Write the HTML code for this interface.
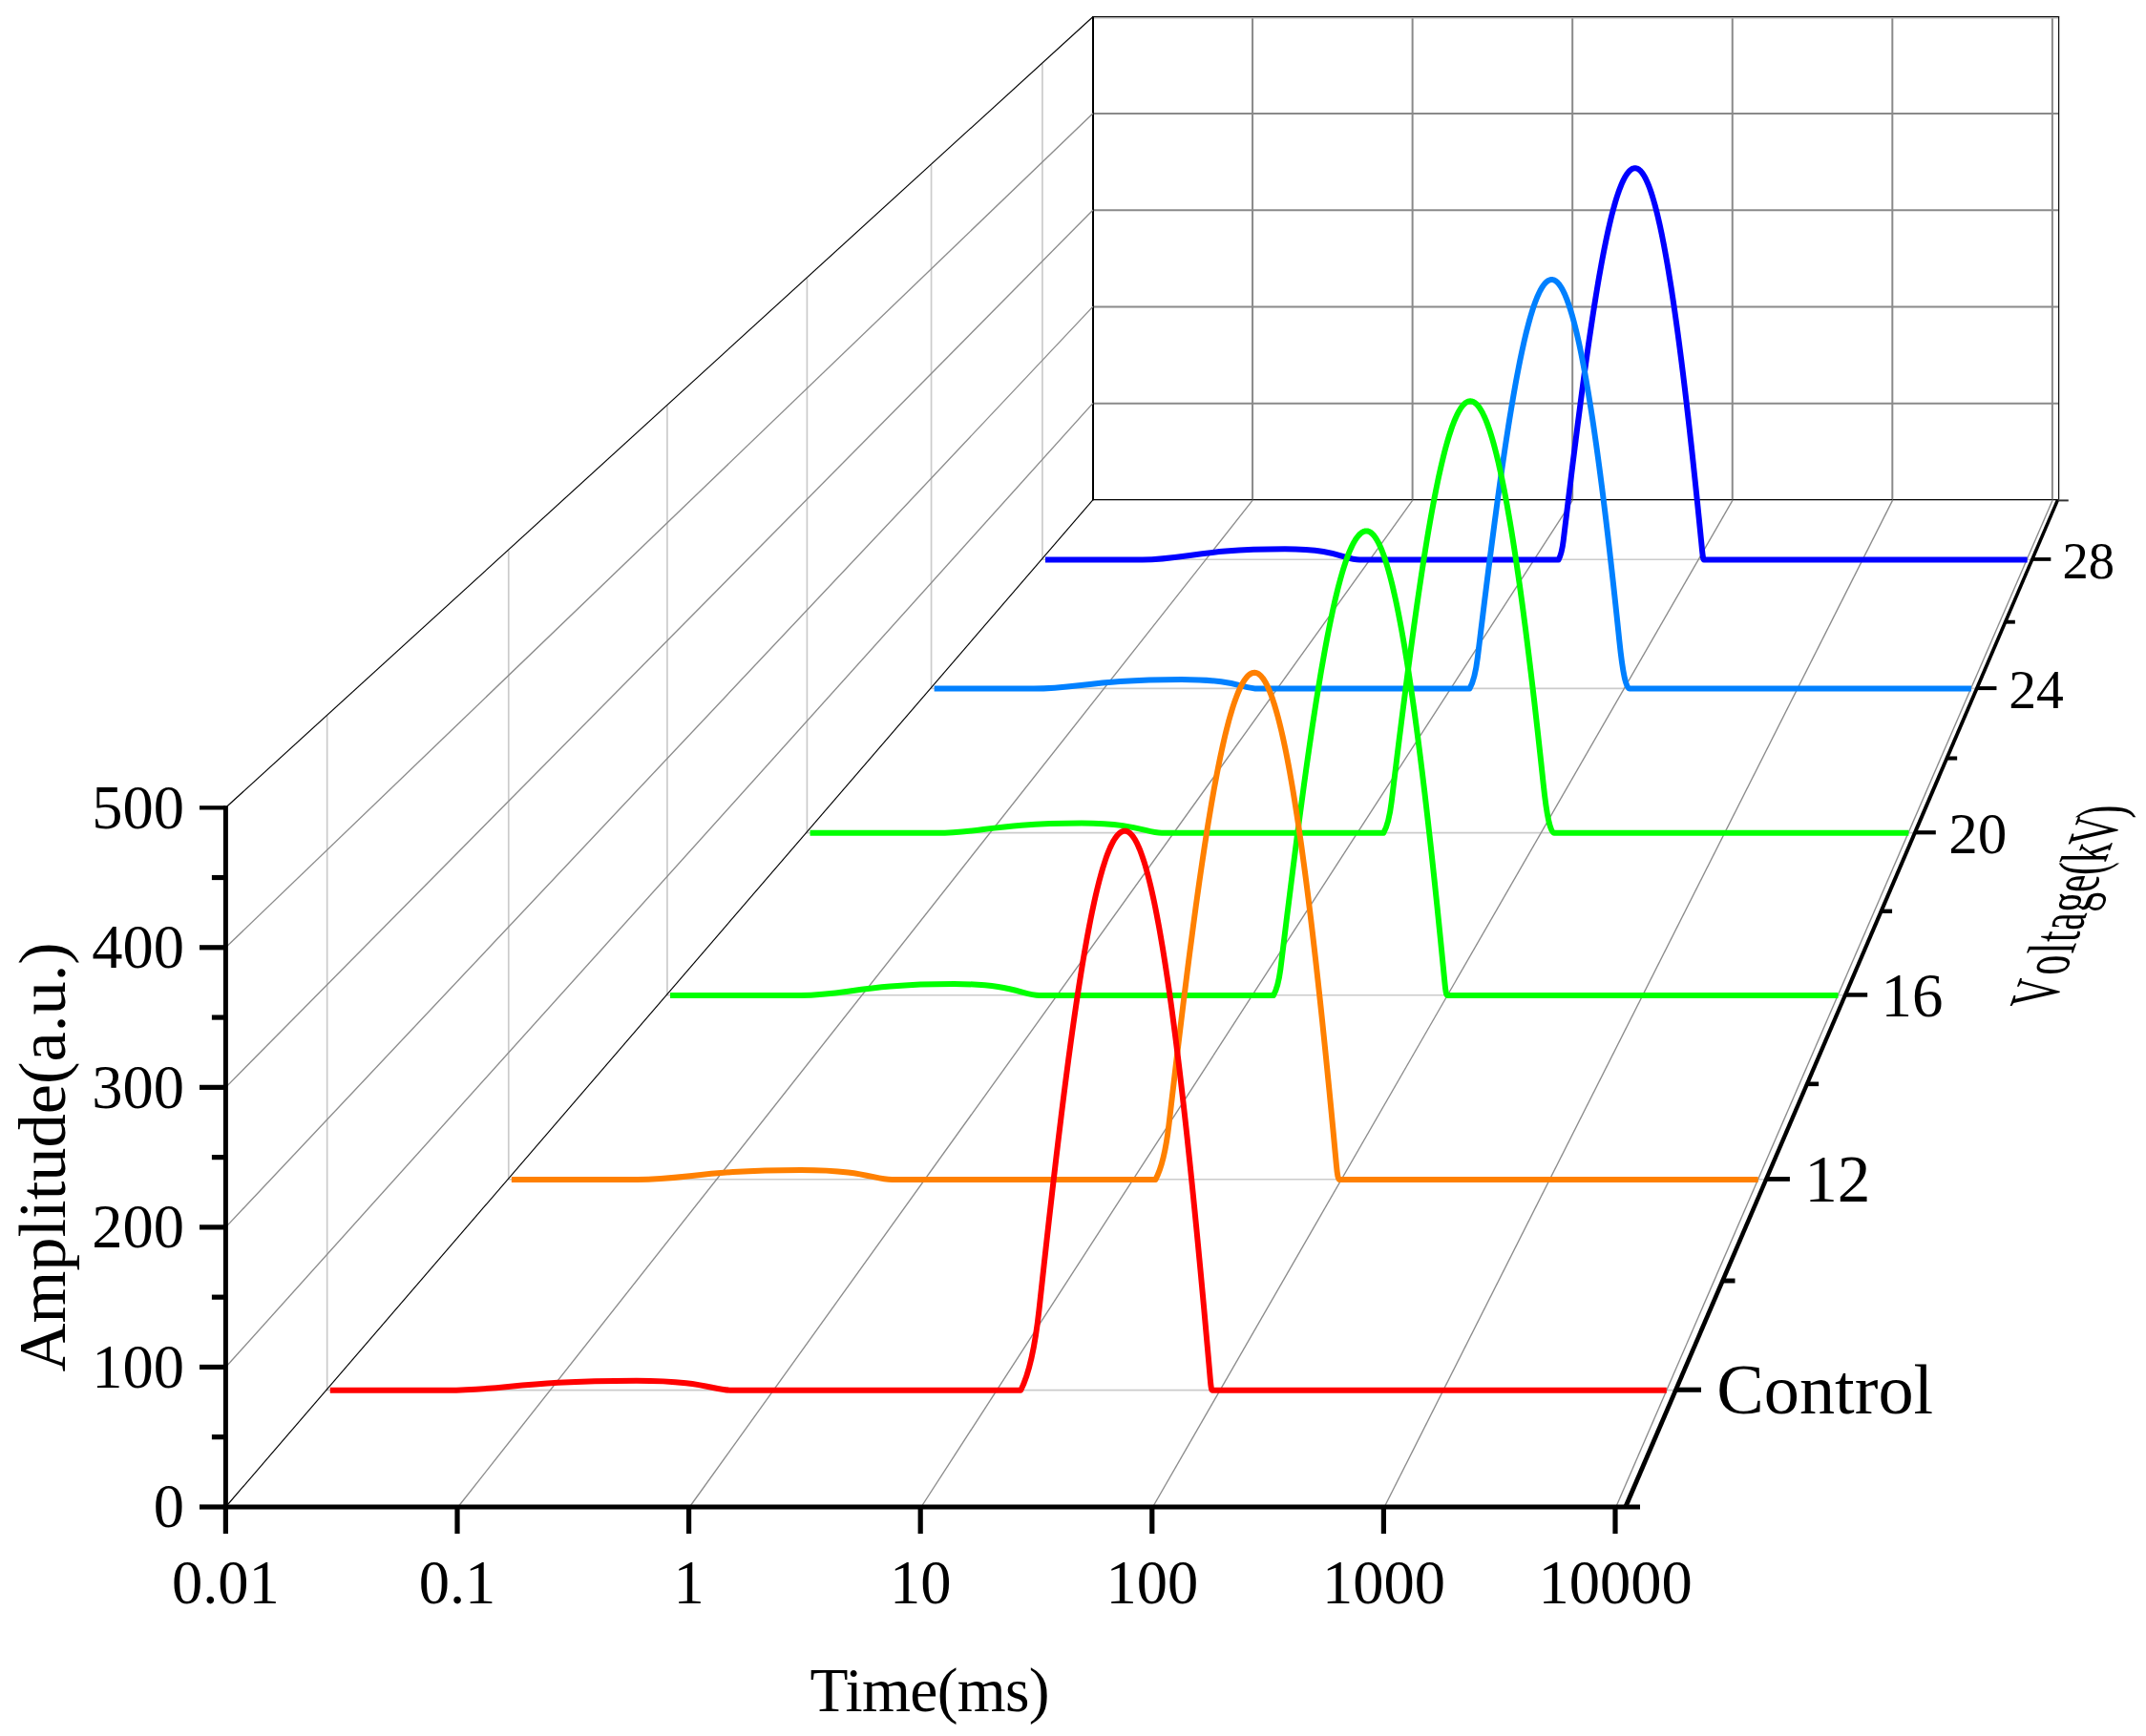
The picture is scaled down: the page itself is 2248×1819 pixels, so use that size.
<!DOCTYPE html>
<html lang="en"><head><meta charset="utf-8"><title>Waterfall: Amplitude vs Time at different voltages</title>
<style>html,body{margin:0;padding:0;background:#fff}svg{display:block}</style></head>
<body>
<svg width="2248" height="1819" viewBox="0 0 2248 1819">
<rect width="2248" height="1819" fill="#fff"/>
<g id="backwall" fill="none">
<line x1="1145" y1="422.78" x2="2156.6" y2="422.78" stroke="#8a8a8a" stroke-width="2"/>
<line x1="1145" y1="321.56" x2="2156.6" y2="321.56" stroke="#8a8a8a" stroke-width="2"/>
<line x1="1145" y1="220.33" x2="2156.6" y2="220.33" stroke="#8a8a8a" stroke-width="2"/>
<line x1="1145" y1="119.11" x2="2156.6" y2="119.11" stroke="#8a8a8a" stroke-width="2"/>
<line x1="1145" y1="17.89" x2="2156.6" y2="17.89" stroke="#8a8a8a" stroke-width="2"/>
<line x1="1312.06" y1="17.49" x2="1312.06" y2="523.6" stroke="#8a8a8a" stroke-width="2"/>
<line x1="1479.63" y1="17.49" x2="1479.63" y2="523.6" stroke="#8a8a8a" stroke-width="2"/>
<line x1="1647.19" y1="17.49" x2="1647.19" y2="523.6" stroke="#8a8a8a" stroke-width="2"/>
<line x1="1814.76" y1="17.49" x2="1814.76" y2="523.6" stroke="#8a8a8a" stroke-width="2"/>
<line x1="1982.32" y1="17.49" x2="1982.32" y2="523.6" stroke="#8a8a8a" stroke-width="2"/>
<line x1="2149.88" y1="17.49" x2="2149.88" y2="523.6" stroke="#8a8a8a" stroke-width="2"/>
<line x1="1145" y1="18.79" x2="2156.6" y2="18.79" stroke="#b4b4b4" stroke-width="1.6"/>
<line x1="1145" y1="17.49" x2="2157.1" y2="17.49" stroke="#000" stroke-width="1.15"/>
<line x1="1145" y1="523.6" x2="2156.6" y2="523.6" stroke="#000" stroke-width="1.3"/>
<line x1="2156.6" y1="16.99" x2="2156.6" y2="523.6" stroke="#111" stroke-width="1.25"/>
<line x1="1145" y1="16.89" x2="1145" y2="524.2" stroke="#000" stroke-width="2"/>
</g>
<g id="leftwall" fill="none">
<line x1="342.68" y1="1456.25" x2="342.68" y2="749.86" stroke="#cbcbcb" stroke-width="1.7"/>
<line x1="532.76" y1="1235.46" x2="532.76" y2="576.48" stroke="#cbcbcb" stroke-width="1.7"/>
<line x1="698.93" y1="1042.44" x2="698.93" y2="424.91" stroke="#cbcbcb" stroke-width="1.7"/>
<line x1="845.43" y1="872.27" x2="845.43" y2="291.29" stroke="#cbcbcb" stroke-width="1.7"/>
<line x1="975.56" y1="721.11" x2="975.56" y2="172.59" stroke="#cbcbcb" stroke-width="1.7"/>
<line x1="1091.92" y1="585.95" x2="1091.92" y2="66.45" stroke="#cbcbcb" stroke-width="1.7"/>
<line x1="236.4" y1="1432.45" x2="1145" y2="422.38" stroke="#8c8c8c" stroke-width="1.35"/>
<line x1="236.4" y1="1285.9" x2="1145" y2="321.16" stroke="#8c8c8c" stroke-width="1.35"/>
<line x1="236.4" y1="1139.35" x2="1145" y2="219.93" stroke="#8c8c8c" stroke-width="1.35"/>
<line x1="236.4" y1="992.8" x2="1145" y2="118.71" stroke="#8c8c8c" stroke-width="1.35"/>
<line x1="236.4" y1="846.25" x2="1145" y2="17.49" stroke="#000" stroke-width="1.15"/>
</g>
<g id="floor" fill="none">
<line x1="342.08" y1="1456.55" x2="1755.92" y2="1456.55" stroke="#cbcbcb" stroke-width="1.7"/>
<line x1="532.16" y1="1235.76" x2="1851.1" y2="1235.76" stroke="#cbcbcb" stroke-width="1.7"/>
<line x1="698.33" y1="1042.74" x2="1934.31" y2="1042.74" stroke="#cbcbcb" stroke-width="1.7"/>
<line x1="844.83" y1="872.57" x2="2007.67" y2="872.57" stroke="#cbcbcb" stroke-width="1.7"/>
<line x1="974.96" y1="721.41" x2="2072.83" y2="721.41" stroke="#cbcbcb" stroke-width="1.7"/>
<line x1="1091.32" y1="586.25" x2="2131.1" y2="586.25" stroke="#cbcbcb" stroke-width="1.7"/>
<line x1="479.8" y1="1579" x2="1312.56" y2="523.6" stroke="#8c8c8c" stroke-width="1.35"/>
<line x1="722.4" y1="1579" x2="1480.13" y2="523.6" stroke="#8c8c8c" stroke-width="1.35"/>
<line x1="965" y1="1579" x2="1647.69" y2="523.6" stroke="#8c8c8c" stroke-width="1.35"/>
<line x1="1207.6" y1="1579" x2="1815.26" y2="523.6" stroke="#8c8c8c" stroke-width="1.35"/>
<line x1="1450.2" y1="1579" x2="1982.82" y2="523.6" stroke="#8c8c8c" stroke-width="1.35"/>
<line x1="1692.8" y1="1579" x2="2150.38" y2="523.6" stroke="#8c8c8c" stroke-width="1.35"/>
<line x1="236.4" y1="1579" x2="1145" y2="523.6" stroke="#000" stroke-width="1.15"/>
</g>
<g id="curves" fill="none" stroke-linejoin="round" stroke-linecap="butt">
<path d="M1095.02 586.45 L1196.7 586.45 C1241.46 586.45 1256.38 575.25 1345.9 575.25 C1400.64 575.25 1408.46 586.45 1424.1 586.45 L1632.6 586.45 Q1636.03 580.39 1637.73 566.26 L1638.8 557.36 L1639.87 548.47 L1640.95 539.6 L1642.02 530.75 L1643.09 521.93 L1644.16 513.14 L1645.24 504.38 L1646.31 495.67 L1647.38 486.99 L1648.45 478.37 L1649.53 469.79 L1650.6 461.27 L1651.67 452.81 L1652.74 444.41 L1653.82 436.08 L1654.89 427.82 L1655.96 419.63 L1657.03 411.52 L1658.11 403.5 L1659.18 395.56 L1660.25 387.71 L1661.32 379.96 L1662.4 372.3 L1663.47 364.75 L1664.54 357.3 L1665.61 349.96 L1666.69 342.73 L1667.76 335.61 L1668.83 328.61 L1669.9 321.74 L1670.98 314.99 L1672.05 308.37 L1673.12 301.88 L1674.19 295.52 L1675.26 289.31 L1676.34 283.23 L1677.41 277.29 L1678.48 271.5 L1679.55 265.87 L1680.63 260.38 L1681.7 255.04 L1682.77 249.87 L1683.84 244.85 L1684.92 239.99 L1685.99 235.3 L1687.06 230.77 L1688.13 226.41 L1689.21 222.22 L1690.28 218.2 L1691.35 214.36 L1692.42 210.69 L1693.5 207.2 L1694.57 203.89 L1695.64 200.76 L1696.71 197.81 L1697.79 195.05 L1698.86 192.47 L1699.93 190.08 L1701 187.87 L1702.08 185.85 L1703.15 184.03 L1704.22 182.39 L1705.29 180.94 L1706.37 179.68 L1707.44 178.62 L1708.51 177.75 L1709.58 177.07 L1710.66 176.59 L1711.73 176.3 L1712.8 176.2 L1713.8 176.29 L1714.81 176.56 L1715.81 177.02 L1716.81 177.65 L1717.81 178.47 L1718.82 179.47 L1719.82 180.65 L1720.82 182.01 L1721.83 183.55 L1722.83 185.27 L1723.83 187.17 L1724.83 189.25 L1725.84 191.5 L1726.84 193.94 L1727.84 196.55 L1728.85 199.34 L1729.85 202.3 L1730.85 205.44 L1731.85 208.75 L1732.86 212.23 L1733.86 215.89 L1734.86 219.72 L1735.87 223.72 L1736.87 227.89 L1737.87 232.22 L1738.87 236.72 L1739.88 241.39 L1740.88 246.22 L1741.88 251.22 L1742.89 256.38 L1743.89 261.69 L1744.89 267.17 L1745.89 272.8 L1746.9 278.6 L1747.9 284.54 L1748.9 290.64 L1749.91 296.89 L1750.91 303.29 L1751.91 309.84 L1752.91 316.53 L1753.92 323.37 L1754.92 330.36 L1755.92 337.48 L1756.93 344.75 L1757.93 352.15 L1758.93 359.69 L1759.93 367.36 L1760.94 375.16 L1761.94 383.1 L1762.94 391.16 L1763.95 399.35 L1764.95 407.67 L1765.95 416.1 L1766.95 424.66 L1767.96 433.33 L1768.96 442.13 L1769.96 451.03 L1770.97 460.05 L1771.97 469.18 L1772.97 478.41 L1773.97 487.75 L1774.98 497.2 L1775.98 506.74 L1776.98 516.38 L1777.99 526.13 L1778.99 535.96 L1779.99 545.89 L1780.99 555.91 L1782 566.02 L1783 576.21 Q1784 586.45 1784.8 586.45 L2123.66 586.45" stroke="#0000ff" stroke-width="6"/>
<path d="M978.66 721.61 L1083 721.61 C1129.41 721.61 1144.88 711.91 1237.7 711.91 C1293.84 711.91 1301.86 721.61 1317.9 721.61 L1539.5 721.61 Q1545.08 711.82 1547.86 688.97 L1548.97 679.86 L1550.08 670.76 L1551.19 661.68 L1552.3 652.64 L1553.41 643.62 L1554.51 634.64 L1555.62 625.7 L1556.73 616.8 L1557.84 607.96 L1558.95 599.16 L1560.06 590.42 L1561.17 581.74 L1562.28 573.12 L1563.39 564.57 L1564.5 556.09 L1565.61 547.69 L1566.72 539.36 L1567.82 531.12 L1568.93 522.97 L1570.04 514.9 L1571.15 506.94 L1572.26 499.06 L1573.37 491.29 L1574.48 483.63 L1575.59 476.07 L1576.7 468.63 L1577.81 461.3 L1578.92 454.09 L1580.03 447 L1581.13 440.04 L1582.24 433.2 L1583.35 426.5 L1584.46 419.93 L1585.57 413.5 L1586.68 407.21 L1587.79 401.06 L1588.9 395.06 L1590.01 389.21 L1591.12 383.51 L1592.23 377.96 L1593.33 372.57 L1594.44 367.34 L1595.55 362.27 L1596.66 357.36 L1597.77 352.62 L1598.88 348.05 L1599.99 343.65 L1601.1 339.42 L1602.21 335.37 L1603.32 331.49 L1604.43 327.79 L1605.54 324.27 L1606.64 320.93 L1607.75 317.77 L1608.86 314.79 L1609.97 312.01 L1611.08 309.4 L1612.19 306.99 L1613.3 304.77 L1614.41 302.73 L1615.52 300.89 L1616.63 299.24 L1617.74 297.78 L1618.85 296.51 L1619.95 295.44 L1621.06 294.56 L1622.17 293.88 L1623.28 293.39 L1624.39 293.1 L1625.5 293 L1626.51 293.09 L1627.52 293.34 L1628.54 293.77 L1629.55 294.36 L1630.56 295.13 L1631.57 296.06 L1632.59 297.17 L1633.6 298.44 L1634.61 299.89 L1635.62 301.5 L1636.64 303.28 L1637.65 305.23 L1638.66 307.34 L1639.67 309.62 L1640.68 312.07 L1641.7 314.69 L1642.71 317.47 L1643.72 320.41 L1644.73 323.52 L1645.75 326.79 L1646.76 330.22 L1647.77 333.81 L1648.78 337.57 L1649.79 341.48 L1650.81 345.55 L1651.82 349.78 L1652.83 354.17 L1653.84 358.71 L1654.86 363.41 L1655.87 368.26 L1656.88 373.26 L1657.89 378.42 L1658.91 383.72 L1659.92 389.17 L1660.93 394.77 L1661.94 400.52 L1662.95 406.41 L1663.97 412.44 L1664.98 418.62 L1665.99 424.94 L1667 431.39 L1668.02 437.99 L1669.03 444.72 L1670.04 451.58 L1671.05 458.58 L1672.07 465.71 L1673.08 472.97 L1674.09 480.36 L1675.1 487.87 L1676.11 495.51 L1677.13 503.27 L1678.14 511.16 L1679.15 519.16 L1680.16 527.28 L1681.18 535.52 L1682.19 543.87 L1683.2 552.34 L1684.21 560.91 L1685.22 569.6 L1686.24 578.39 L1687.25 587.29 L1688.26 596.29 L1689.27 605.39 L1690.29 614.59 L1691.3 623.89 L1692.31 633.29 L1693.32 642.77 L1694.34 652.35 L1695.35 662.03 L1696.36 671.78 Q1701.51 721.61 1707 721.61 L2064.97 721.61" stroke="#0080ff" stroke-width="6"/>
<path d="M848.53 872.77 L982 872.77 C1027.3 872.77 1042.4 862.57 1133 862.57 C1191.8 862.57 1200.2 872.77 1217 872.77 L1449.3 872.77 Q1454.88 863.02 1457.66 840.26 L1458.84 830.61 L1460.02 820.97 L1461.2 811.36 L1462.38 801.77 L1463.56 792.22 L1464.73 782.71 L1465.91 773.23 L1467.09 763.81 L1468.27 754.43 L1469.45 745.1 L1470.63 735.84 L1471.81 726.64 L1472.99 717.5 L1474.17 708.44 L1475.35 699.45 L1476.53 690.54 L1477.71 681.71 L1478.88 672.98 L1480.06 664.33 L1481.24 655.78 L1482.42 647.33 L1483.6 638.98 L1484.78 630.74 L1485.96 622.61 L1487.14 614.59 L1488.32 606.7 L1489.5 598.92 L1490.68 591.27 L1491.86 583.75 L1493.03 576.37 L1494.21 569.11 L1495.39 562 L1496.57 555.03 L1497.75 548.21 L1498.93 541.53 L1500.11 535.01 L1501.29 528.64 L1502.47 522.43 L1503.65 516.38 L1504.83 510.49 L1506 504.77 L1507.18 499.22 L1508.36 493.84 L1509.54 488.63 L1510.72 483.6 L1511.9 478.74 L1513.08 474.07 L1514.26 469.58 L1515.44 465.28 L1516.62 461.16 L1517.8 457.23 L1518.98 453.49 L1520.15 449.95 L1521.33 446.6 L1522.51 443.44 L1523.69 440.48 L1524.87 437.72 L1526.05 435.15 L1527.23 432.79 L1528.41 430.63 L1529.59 428.68 L1530.77 426.92 L1531.95 425.37 L1533.13 424.03 L1534.3 422.89 L1535.48 421.96 L1536.66 421.23 L1537.84 420.71 L1539.02 420.4 L1540.2 420.3 L1541.29 420.39 L1542.38 420.66 L1543.47 421.11 L1544.57 421.74 L1545.66 422.55 L1546.75 423.54 L1547.84 424.7 L1548.93 426.05 L1550.02 427.58 L1551.11 429.28 L1552.21 431.16 L1553.3 433.22 L1554.39 435.45 L1555.48 437.86 L1556.57 440.45 L1557.66 443.21 L1558.75 446.15 L1559.85 449.26 L1560.94 452.54 L1562.03 456 L1563.12 459.62 L1564.21 463.42 L1565.3 467.39 L1566.39 471.52 L1567.49 475.82 L1568.58 480.29 L1569.67 484.93 L1570.76 489.73 L1571.85 494.69 L1572.94 499.81 L1574.03 505.1 L1575.13 510.54 L1576.22 516.15 L1577.31 521.91 L1578.4 527.83 L1579.49 533.9 L1580.58 540.12 L1581.67 546.49 L1582.77 553.02 L1583.86 559.69 L1584.95 566.51 L1586.04 573.48 L1587.13 580.59 L1588.22 587.84 L1589.31 595.24 L1590.41 602.77 L1591.5 610.44 L1592.59 618.24 L1593.68 626.18 L1594.77 634.25 L1595.86 642.45 L1596.95 650.78 L1598.05 659.23 L1599.14 667.81 L1600.23 676.52 L1601.32 685.34 L1602.41 694.28 L1603.5 703.34 L1604.59 712.52 L1605.69 721.81 L1606.78 731.21 L1607.87 740.71 L1608.96 750.33 L1610.05 760.05 L1611.14 769.87 L1612.23 779.8 L1613.33 789.82 L1614.42 799.94 L1615.51 810.16 L1616.6 820.47 Q1622.11 872.77 1628 872.77 L1999.34 872.77" stroke="#00ff00" stroke-width="6"/>
<path d="M702.03 1042.94 L839 1042.94 C887.12 1042.94 903.16 1031.04 999.4 1031.04 C1062.05 1031.04 1071 1042.94 1088.9 1042.94 L1334 1042.94 Q1339.08 1034.11 1341.6 1013.5 L1342.88 1003.03 L1344.17 992.58 L1345.45 982.15 L1346.73 971.75 L1348.01 961.39 L1349.3 951.06 L1350.58 940.77 L1351.86 930.53 L1353.15 920.35 L1354.43 910.22 L1355.71 900.15 L1356.99 890.15 L1358.28 880.22 L1359.56 870.36 L1360.84 860.59 L1362.13 850.9 L1363.41 841.3 L1364.69 831.8 L1365.97 822.39 L1367.26 813.08 L1368.54 803.89 L1369.82 794.8 L1371.11 785.83 L1372.39 776.98 L1373.67 768.25 L1374.95 759.65 L1376.24 751.18 L1377.52 742.85 L1378.8 734.66 L1380.09 726.61 L1381.37 718.71 L1382.65 710.96 L1383.93 703.36 L1385.22 695.93 L1386.5 688.65 L1387.78 681.54 L1389.07 674.59 L1390.35 667.82 L1391.63 661.23 L1392.91 654.81 L1394.2 648.57 L1395.48 642.51 L1396.76 636.64 L1398.05 630.96 L1399.33 625.47 L1400.61 620.18 L1401.89 615.08 L1403.18 610.19 L1404.46 605.49 L1405.74 601 L1407.03 596.71 L1408.31 592.63 L1409.59 588.76 L1410.87 585.1 L1412.16 581.66 L1413.44 578.43 L1414.72 575.41 L1416.01 572.62 L1417.29 570.04 L1418.57 567.68 L1419.85 565.54 L1421.14 563.63 L1422.42 561.94 L1423.7 560.47 L1424.99 559.23 L1426.27 558.21 L1427.55 557.42 L1428.83 556.85 L1430.12 556.51 L1431.4 556.4 L1432.57 556.51 L1433.75 556.83 L1434.92 557.37 L1436.09 558.12 L1437.27 559.09 L1438.44 560.28 L1439.61 561.68 L1440.79 563.29 L1441.96 565.12 L1443.13 567.16 L1444.31 569.41 L1445.48 571.87 L1446.65 574.55 L1447.83 577.44 L1449 580.53 L1450.17 583.84 L1451.35 587.35 L1452.52 591.07 L1453.69 595 L1454.87 599.14 L1456.04 603.47 L1457.21 608.01 L1458.39 612.75 L1459.56 617.7 L1460.73 622.84 L1461.91 628.18 L1463.08 633.71 L1464.25 639.44 L1465.43 645.37 L1466.6 651.48 L1467.77 657.79 L1468.95 664.29 L1470.12 670.97 L1471.29 677.84 L1472.47 684.89 L1473.64 692.12 L1474.81 699.53 L1475.98 707.12 L1477.16 714.89 L1478.33 722.83 L1479.5 730.94 L1480.68 739.22 L1481.85 747.67 L1483.02 756.29 L1484.2 765.07 L1485.37 774.01 L1486.54 783.1 L1487.72 792.36 L1488.89 801.77 L1490.06 811.33 L1491.24 821.05 L1492.41 830.91 L1493.58 840.91 L1494.76 851.06 L1495.93 861.35 L1497.1 871.77 L1498.28 882.34 L1499.45 893.03 L1500.62 903.85 L1501.8 914.81 L1502.97 925.88 L1504.14 937.08 L1505.32 948.4 L1506.49 959.84 L1507.66 971.39 L1508.84 983.06 L1510.01 994.83 L1511.18 1006.72 L1512.36 1018.7 L1513.53 1030.79 Q1514.7 1042.94 1516 1042.94 L1925.46 1042.94" stroke="#00ff00" stroke-width="6"/>
<path d="M535.86 1235.96 L667.7 1235.96 C719.15 1235.96 736.3 1225.96 839.2 1225.96 C905.77 1225.96 915.28 1235.96 934.3 1235.96 L1210.4 1235.96 Q1219.78 1218.7 1224.46 1178.43 L1225.74 1167.41 L1227.02 1156.42 L1228.31 1145.47 L1229.59 1134.56 L1230.87 1123.69 L1232.15 1112.87 L1233.43 1102.1 L1234.72 1091.4 L1236 1080.75 L1237.28 1070.17 L1238.56 1059.67 L1239.84 1049.24 L1241.13 1038.9 L1242.41 1028.64 L1243.69 1018.47 L1244.97 1008.39 L1246.25 998.42 L1247.54 988.55 L1248.82 978.78 L1250.1 969.13 L1251.38 959.59 L1252.66 950.18 L1253.95 940.89 L1255.23 931.73 L1256.51 922.7 L1257.79 913.81 L1259.07 905.06 L1260.36 896.45 L1261.64 887.99 L1262.92 879.69 L1264.2 871.54 L1265.48 863.54 L1266.77 855.71 L1268.05 848.05 L1269.33 840.56 L1270.61 833.23 L1271.89 826.09 L1273.18 819.12 L1274.46 812.33 L1275.74 805.73 L1277.02 799.32 L1278.3 793.1 L1279.59 787.07 L1280.87 781.24 L1282.15 775.6 L1283.43 770.17 L1284.71 764.94 L1286 759.91 L1287.28 755.09 L1288.56 750.49 L1289.84 746.09 L1291.12 741.91 L1292.41 737.94 L1293.69 734.19 L1294.97 730.66 L1296.25 727.35 L1297.53 724.27 L1298.82 721.4 L1300.1 718.76 L1301.38 716.35 L1302.66 714.16 L1303.94 712.2 L1305.23 710.47 L1306.51 708.97 L1307.79 707.69 L1309.07 706.65 L1310.35 705.84 L1311.64 705.26 L1312.92 704.92 L1314.2 704.8 L1315.42 704.92 L1316.65 705.27 L1317.88 705.86 L1319.1 706.68 L1320.33 707.73 L1321.55 709.02 L1322.78 710.54 L1324 712.3 L1325.23 714.29 L1326.45 716.51 L1327.67 718.96 L1328.9 721.64 L1330.12 724.56 L1331.35 727.7 L1332.58 731.07 L1333.8 734.67 L1335.03 738.49 L1336.25 742.54 L1337.48 746.82 L1338.7 751.32 L1339.92 756.04 L1341.15 760.98 L1342.38 766.14 L1343.6 771.52 L1344.83 777.12 L1346.05 782.93 L1347.28 788.96 L1348.5 795.2 L1349.73 801.65 L1350.95 808.3 L1352.17 815.17 L1353.4 822.24 L1354.62 829.51 L1355.85 836.99 L1357.08 844.67 L1358.3 852.54 L1359.53 860.61 L1360.75 868.87 L1361.98 877.33 L1363.2 885.97 L1364.42 894.8 L1365.65 903.82 L1366.88 913.02 L1368.1 922.4 L1369.33 931.96 L1370.55 941.69 L1371.78 951.6 L1373 961.68 L1374.23 971.92 L1375.45 982.34 L1376.67 992.91 L1377.9 1003.65 L1379.12 1014.54 L1380.35 1025.59 L1381.58 1036.8 L1382.8 1048.15 L1384.03 1059.65 L1385.25 1071.29 L1386.48 1083.08 L1387.7 1095.01 L1388.92 1107.07 L1390.15 1119.27 L1391.38 1131.6 L1392.6 1144.05 L1393.83 1156.63 L1395.05 1169.34 L1396.28 1182.16 L1397.5 1195.1 L1398.73 1208.16 L1399.95 1221.32 Q1401.31 1235.96 1402.8 1235.96 L1841.66 1235.96" stroke="#ff8000" stroke-width="6"/>
<path d="M345.78 1456.75 L469 1456.75 C528.31 1456.75 548.08 1446.75 666.7 1446.75 C737.12 1446.75 747.18 1456.75 767.3 1456.75 L1069.3 1456.75 Q1082.08 1431.45 1088.49 1372.43 L1089.77 1360.63 L1091.06 1348.87 L1092.34 1337.16 L1093.62 1325.49 L1094.91 1313.88 L1096.19 1302.33 L1097.47 1290.84 L1098.75 1279.42 L1100.04 1268.08 L1101.32 1256.81 L1102.6 1245.63 L1103.89 1234.53 L1105.17 1223.53 L1106.45 1212.62 L1107.74 1201.82 L1109.02 1191.12 L1110.3 1180.53 L1111.58 1170.05 L1112.87 1159.7 L1114.15 1149.47 L1115.43 1139.36 L1116.72 1129.39 L1118 1119.55 L1119.28 1109.86 L1120.57 1100.3 L1121.85 1090.9 L1123.13 1081.65 L1124.41 1072.55 L1125.7 1063.61 L1126.98 1054.84 L1128.26 1046.23 L1129.55 1037.79 L1130.83 1029.53 L1132.11 1021.44 L1133.39 1013.54 L1134.68 1005.82 L1135.96 998.29 L1137.24 990.94 L1138.53 983.79 L1139.81 976.84 L1141.09 970.09 L1142.38 963.53 L1143.66 957.19 L1144.94 951.05 L1146.23 945.12 L1147.51 939.4 L1148.79 933.9 L1150.07 928.61 L1151.36 923.54 L1152.64 918.7 L1153.92 914.08 L1155.21 909.68 L1156.49 905.51 L1157.77 901.57 L1159.06 897.86 L1160.34 894.39 L1161.62 891.14 L1162.9 888.13 L1164.19 885.36 L1165.47 882.83 L1166.75 880.53 L1168.04 878.47 L1169.32 876.65 L1170.6 875.07 L1171.88 873.74 L1173.17 872.65 L1174.45 871.79 L1175.73 871.19 L1177.02 870.82 L1178.3 870.7 L1179.58 870.83 L1180.86 871.22 L1182.14 871.88 L1183.41 872.79 L1184.69 873.96 L1185.97 875.4 L1187.25 877.09 L1188.53 879.05 L1189.81 881.26 L1191.09 883.73 L1192.36 886.46 L1193.64 889.45 L1194.92 892.69 L1196.2 896.19 L1197.48 899.94 L1198.76 903.95 L1200.04 908.21 L1201.31 912.72 L1202.59 917.48 L1203.87 922.49 L1205.15 927.74 L1206.43 933.24 L1207.71 938.99 L1208.99 944.98 L1210.26 951.21 L1211.54 957.68 L1212.82 964.38 L1214.1 971.33 L1215.38 978.5 L1216.66 985.91 L1217.94 993.55 L1219.21 1001.42 L1220.49 1009.52 L1221.77 1017.84 L1223.05 1026.38 L1224.33 1035.14 L1225.61 1044.12 L1226.89 1053.32 L1228.16 1062.72 L1229.44 1072.34 L1230.72 1082.17 L1232 1092.2 L1233.28 1102.43 L1234.56 1112.87 L1235.84 1123.5 L1237.11 1134.33 L1238.39 1145.35 L1239.67 1156.56 L1240.95 1167.96 L1242.23 1179.54 L1243.51 1191.3 L1244.79 1203.24 L1246.06 1215.36 L1247.34 1227.64 L1248.62 1240.1 L1249.9 1252.73 L1251.18 1265.51 L1252.46 1278.46 L1253.74 1291.57 L1255.01 1304.83 L1256.29 1318.24 L1257.57 1331.8 L1258.85 1345.5 L1260.13 1359.35 L1261.41 1373.33 L1262.69 1387.45 L1263.96 1401.7 L1265.24 1416.08 L1266.52 1430.59 L1267.8 1445.22 Q1268.8 1456.75 1269.6 1456.75 L1745.8 1456.75" stroke="#ff0000" stroke-width="6"/>
</g>
<g id="axes" stroke="#000" fill="none">
<line x1="233.8" y1="1579" x2="1718" y2="1579" stroke="#000" stroke-width="5.2"/>
<line x1="236.4" y1="844.15" x2="236.4" y2="1581.6" stroke="#000" stroke-width="5"/>
<line x1="236.4" y1="1579" x2="236.4" y2="1607" stroke="#000" stroke-width="5.2"/>
<line x1="479" y1="1579" x2="479" y2="1607" stroke="#000" stroke-width="5.2"/>
<line x1="721.6" y1="1579" x2="721.6" y2="1607" stroke="#000" stroke-width="5.2"/>
<line x1="964.2" y1="1579" x2="964.2" y2="1607" stroke="#000" stroke-width="5.2"/>
<line x1="1206.8" y1="1579" x2="1206.8" y2="1607" stroke="#000" stroke-width="5.2"/>
<line x1="1449.4" y1="1579" x2="1449.4" y2="1607" stroke="#000" stroke-width="5.2"/>
<line x1="1692" y1="1579" x2="1692" y2="1607" stroke="#000" stroke-width="5.2"/>
<line x1="209" y1="1579" x2="236.4" y2="1579" stroke="#000" stroke-width="5.2"/>
<line x1="221.9" y1="1505.72" x2="236.4" y2="1505.72" stroke="#000" stroke-width="5.2"/>
<line x1="209" y1="1432.45" x2="236.4" y2="1432.45" stroke="#000" stroke-width="5.2"/>
<line x1="221.9" y1="1359.17" x2="236.4" y2="1359.17" stroke="#000" stroke-width="5.2"/>
<line x1="209" y1="1285.9" x2="236.4" y2="1285.9" stroke="#000" stroke-width="5.2"/>
<line x1="221.9" y1="1212.62" x2="236.4" y2="1212.62" stroke="#000" stroke-width="5.2"/>
<line x1="209" y1="1139.35" x2="236.4" y2="1139.35" stroke="#000" stroke-width="5.2"/>
<line x1="221.9" y1="1066.07" x2="236.4" y2="1066.07" stroke="#000" stroke-width="5.2"/>
<line x1="209" y1="992.8" x2="236.4" y2="992.8" stroke="#000" stroke-width="5.2"/>
<line x1="221.9" y1="919.52" x2="236.4" y2="919.52" stroke="#000" stroke-width="5.2"/>
<line x1="209" y1="846.35" x2="236.4" y2="846.35" stroke="#000" stroke-width="4.3"/>
</g>
<g id="zaxis" fill="#000" stroke="none">
<polygon points="1705.05,1579.97 1700.55,1578.03 2153.99,522.91 2157.21,524.29"/>
<rect x="1755.47" y="1453.69" width="26.51" height="5.11"/>
<rect x="1804.47" y="1339.55" width="13.03" height="4.93"/>
<rect x="1850.19" y="1233.07" width="24.73" height="4.77"/>
<rect x="1892.94" y="1133.51" width="12.18" height="4.61"/>
<rect x="1933" y="1040.21" width="23.18" height="4.47"/>
<rect x="1970.62" y="952.6" width="11.44" height="4.33"/>
<rect x="2006.01" y="870.17" width="21.8" height="4.2"/>
<rect x="2039.37" y="792.48" width="10.78" height="4.08"/>
<rect x="2070.86" y="719.13" width="20.59" height="3.97"/>
<rect x="2100.64" y="649.77" width="10.2" height="3.86"/>
<rect x="2128.85" y="584.08" width="19.5" height="3.76"/>
<rect x="2155.6" y="523.4" width="11.17" height="2" fill="#333"/>
</g>
<g id="labels" fill="#000" font-family="'Liberation Serif',serif">
<text x="193" y="1600.3" font-size="64.5" text-anchor="end">0</text>
<text x="193" y="1453.75" font-size="64.5" text-anchor="end">100</text>
<text x="193" y="1307.2" font-size="64.5" text-anchor="end">200</text>
<text x="193" y="1160.65" font-size="64.5" text-anchor="end">300</text>
<text x="193" y="1014.1" font-size="64.5" text-anchor="end">400</text>
<text x="193" y="867.55" font-size="64.5" text-anchor="end">500</text>
<text x="236.4" y="1680" font-size="64.5" text-anchor="middle">0.01</text>
<text x="479" y="1680" font-size="64.5" text-anchor="middle">0.1</text>
<text x="721.6" y="1680" font-size="64.5" text-anchor="middle">1</text>
<text x="964.2" y="1680" font-size="64.5" text-anchor="middle">10</text>
<text x="1206.8" y="1680" font-size="64.5" text-anchor="middle">100</text>
<text x="1449.4" y="1680" font-size="64.5" text-anchor="middle">1000</text>
<text x="1692" y="1680" font-size="64.5" text-anchor="middle">10000</text>
<text x="1798.36" y="1481.33" font-size="74.23">Control</text>
<text x="1890.21" y="1259.26" font-size="69.25">12</text>
<text x="1970.5" y="1065.12" font-size="64.89">16</text>
<text x="2041.29" y="893.97" font-size="61.05">20</text>
<text x="2104.17" y="741.93" font-size="57.64">24</text>
<text x="2160.4" y="605.99" font-size="54.59">28</text>
<text x="848.5" y="1793" font-size="65.5" letter-spacing="-0.7">Time(ms)</text>
<text transform="translate(68 1437.5) rotate(-90)" font-size="70.5">Amplitude(a.u.)</text>
<text transform="matrix(0.1493 -0.4160 0.7000 0 2151.37 1054.41)" font-size="100" x="0 79.18 132.52 162.18 191.73 237.31 287.23 330.6 361.85 407.06 473.42">Voltage(kV)</text>
</g>
</svg>
</body></html>
